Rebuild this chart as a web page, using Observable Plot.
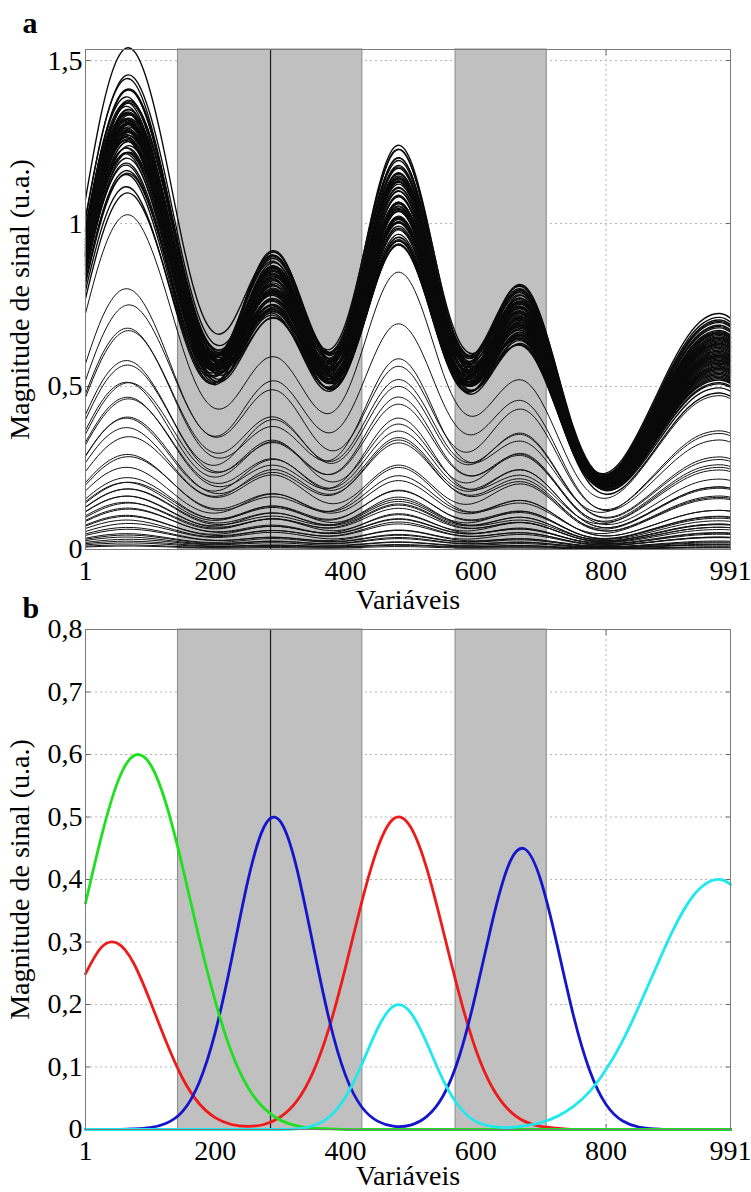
<!DOCTYPE html>
<html>
<head>
<meta charset="utf-8">
<script src="https://cdn.jsdelivr.net/npm/d3@7"></script>
<script src="https://cdn.jsdelivr.net/npm/@observablehq/plot@0.6"></script>
<style>
  body { margin: 0; background: #fff; }
  #wrap { position: relative; width: 751px; height: 1192px; }
  #wrap svg { position: absolute; left: 0; }
  #wrap svg, #wrap svg text, #wrap svg g { font-family: "Liberation Serif", "Times New Roman", Tinos, "DejaVu Serif", serif !important; }
</style>
</head>
<body>
<div id="wrap"></div>
<script>
// ---- sampled variable positions ----
const variables = [1,25,50,75,100,125,150,175,200,225,250,275,300,325,350,375,400,425,450,475,500,525,550,575,600,625,650,675,700,725,750,775,800,825,850,875,900,925,950,975,991];

// ---- pure component profiles (panel b), read at the sampled variables ----
const green = [0.362,0.467,0.555,0.598,0.585,0.520,0.420,0.308,0.206,0.124,0.068,0.034,0.015,0.006,0.002,0.001,0,0,0,0,0,0,0,0,0,0,0,0,0,0,0,0,0,0,0,0,0,0,0,0,0];
const red   = [0.249,0.291,0.298,0.266,0.206,0.140,0.082,0.042,0.019,0.008,0.005,0.008,0.020,0.045,0.091,0.163,0.259,0.364,0.452,0.498,0.484,0.417,0.318,0.215,0.128,0.068,0.032,0.013,0.005,0.002,0,0,0,0,0,0,0,0,0,0,0];
const blue  = [0,0,0,0.001,0.003,0.010,0.029,0.074,0.155,0.271,0.397,0.484,0.493,0.419,0.297,0.176,0.087,0.036,0.013,0.005,0.007,0.021,0.054,0.118,0.217,0.331,0.422,0.449,0.398,0.295,0.182,0.094,0.040,0.014,0.004,0.001,0,0,0,0,0];
const cyan  = [0,0,0,0,0,0,0,0,0,0,0,0,0,0.001,0.006,0.020,0.052,0.104,0.163,0.198,0.187,0.138,0.079,0.036,0.013,0.005,0.003,0.006,0.011,0.021,0.037,0.061,0.096,0.141,0.196,0.255,0.313,0.361,0.391,0.400,0.392];

// ---- mixture amounts of each component in the spectra of panel a ----
// dense upper group
const topG = [1.42,1.55,1.31,1.68,1.47,1.22,1.59,1.38,1.51,1.64,
              1.29,1.45,1.73,1.36,1.52,1.41,1.27,1.60,1.48,1.35,
              1.66,1.44,1.19,1.57,1.50,1.33,1.62,1.40,1.54,1.26,
              1.46,1.70,1.37,1.58,1.43,1.30,1.65,1.49,1.24,1.56,
              1.39,1.61,1.34,1.53,1.45,1.28,1.67,1.42,1.50,1.36,
              1.59,1.21,1.47,1.63,1.32,1.55,1.44,1.71,1.38,1.52,
              1.25,1.60,1.41,1.48,1.80];
const topR = [1.58,1.36,1.71,1.49,1.25,1.63,1.44,1.77,1.52,1.30,
              1.67,1.41,1.55,1.84,1.33,1.60,1.47,1.28,1.73,1.50,
              1.39,1.62,1.46,1.35,1.79,1.54,1.27,1.66,1.43,1.57,
              1.70,1.32,1.51,1.45,1.64,1.38,1.56,1.75,1.29,1.48,
              1.61,1.42,1.68,1.34,1.53,1.81,1.40,1.59,1.26,1.65,
              1.47,1.55,1.37,1.72,1.50,1.31,1.63,1.44,1.58,1.40,
              1.69,1.35,1.52,1.60,1.70];
const topB = [1.49,1.62,1.38,1.55,1.71,1.44,1.33,1.60,1.47,1.52,
              1.66,1.40,1.57,1.35,1.63,1.50,1.74,1.42,1.31,1.58,
              1.45,1.68,1.53,1.37,1.61,1.48,1.56,1.72,1.39,1.64,
              1.51,1.34,1.59,1.46,1.69,1.41,1.54,1.36,1.65,1.48,
              1.57,1.43,1.70,1.52,1.38,1.62,1.47,1.55,1.67,1.32,
              1.60,1.50,1.44,1.58,1.73,1.40,1.53,1.46,1.64,1.36,
              1.55,1.48,1.61,1.42,1.68];
const topC = [1.45,1.58,1.66,1.33,1.51,1.74,1.40,1.55,1.28,1.62,
              1.48,1.70,1.36,1.57,1.43,1.65,1.31,1.52,1.78,1.41,
              1.59,1.24,1.50,1.68,1.38,1.61,1.46,1.35,1.72,1.54,
              1.42,1.63,1.49,1.27,1.56,1.75,1.39,1.60,1.47,1.34,
              1.67,1.44,1.53,1.81,1.37,1.58,1.30,1.64,1.50,1.45,
              1.71,1.40,1.55,1.32,1.62,1.48,1.76,1.43,1.57,1.20,
              1.52,1.66,1.38,1.60,1.47];
// spread-out lower group
const lowG = [1.16,0.86,0.91,0.77,0.80,0.62,0.64,0.55,0.62,0.53,0.55,0.43,0.46,0.40,0.42,0.33,0.34,0.27,0.25,0.22,0.25,0.21,0.22,0.175,0.185,0.155,0.173,0.144,0.147,0.112,0.115,0.097,0.097,0.077,0.074,0.052,0.05,0.041,0.038,0.029,0.024,0.015,0.012];
const lowR = [1.22,1.04,0.76,0.80,0.71,0.76,0.67,0.67,0.52,0.55,0.49,0.53,0.48,0.49,0.35,0.345,0.30,0.33,0.26,0.27,0.21,0.22,0.20,0.215,0.195,0.19,0.144,0.15,0.132,0.138,0.121,0.118,0.081,0.08,0.066,0.064,0.053,0.05,0.032,0.03,0.022,0.019,0.013];
const lowB = [1.10,0.97,0.92,0.70,0.76,0.75,0.61,0.62,0.63,0.48,0.52,0.52,0.44,0.46,0.43,0.30,0.32,0.32,0.24,0.25,0.25,0.19,0.21,0.21,0.175,0.177,0.176,0.132,0.14,0.135,0.109,0.109,0.099,0.070,0.07,0.063,0.048,0.047,0.039,0.026,0.023,0.018,0.011];
const lowC = [1.18,0.84,0.89,0.91,0.71,0.69,0.65,0.54,0.61,0.63,0.48,0.48,0.47,0.40,0.41,0.39,0.30,0.30,0.255,0.22,0.24,0.25,0.195,0.195,0.19,0.153,0.17,0.171,0.13,0.125,0.117,0.095,0.095,0.091,0.065,0.058,0.051,0.041,0.037,0.034,0.021,0.017,0.012];

// ---- axes / annotations ----
const xTicks = [1, 200, 400, 600, 800, 991];
const xGrid = [200, 400, 600, 800];
const yTicksA = [0, 0.5, 1, 1.5];
const yTicksB = [0, 0.1, 0.2, 0.3, 0.4, 0.5, 0.6, 0.7, 0.8];
const yMaxA = 1.534;
const yMaxB = 0.8;
const bands = [{x1: 143, x2: 426}, {x1: 569, x2: 709}];
const marker = [285];
const yLabel = "Magnitude de sinal (u.a.)";
const xLabel = "Variáveis";

// ---- build tables ----
function buildGroup(G, R, B, C, tag) {
  const rows = [];
  G.forEach((g, i) => {
    variables.forEach((v, j) => {
      rows.push({id: tag + i, x: v,
        y: g * green[j] + R[i] * red[j] + B[i] * blue[j] + C[i] * cyan[j]});
    });
  });
  return rows;
}
const lowSpectra = buildGroup(lowG, lowR, lowB, lowC, "low");
const topSpectra = buildGroup(topG, topR, topB, topC, "top");

const comps = [
  {name: "red", color: "#ee1b1b", values: red},
  {name: "blue", color: "#1515cc", values: blue},
  {name: "green", color: "#1fe01f", values: green},
  {name: "cyan", color: "#1fe8ee", values: cyan}
];
const compRows = comps.flatMap(c => variables.map((v, j) => ({name: c.name, color: c.color, x: v, y: c.values[j]})));

const fmt = d => String(d).replace(".", ",");
const FONT = "Liberation Serif, Times New Roman, Tinos, DejaVu Serif, serif";
const style = "background: transparent; overflow: visible; font-size: 28px; color: #000;";

function frameMarks(yTicks, yGrid) {
  return [
    Plot.gridX(xGrid, {stroke: "#b4b4b4", strokeOpacity: 1, strokeDasharray: "2,3"}),
    Plot.gridY(yGrid, {stroke: "#b4b4b4", strokeOpacity: 1, strokeDasharray: "2,3"}),
    Plot.axisX({ticks: xTicks, tickSize: 0, tickPadding: 11, tickFormat: d => String(d), label: null, fontFamily: FONT, fontSize: 28}),
    Plot.axisY({ticks: yTicks, tickSize: 0, tickPadding: 3, tickFormat: fmt, label: null, fontFamily: FONT, fontSize: 28}),
    Plot.axisX({anchor: "bottom", ticks: xTicks, tickSize: -5, fill: "none", stroke: "#666", label: null}),
    Plot.axisX({anchor: "top", ticks: xTicks, tickSize: -5, fill: "none", stroke: "#666", label: null}),
    Plot.axisY({anchor: "left", ticks: yTicks, tickSize: -5, fill: "none", stroke: "#666", label: null}),
    Plot.axisY({anchor: "right", ticks: yTicks, tickSize: -5, fill: "none", stroke: "#666", label: null}),
    Plot.rect(bands, {x1: "x1", x2: "x2", fill: "#c0c0c0", stroke: "#8a8a8a", strokeWidth: 1})
  ];
}
function labelMarks(letter, letterDy, xLabelDy) {
  return [
    Plot.frame({stroke: "#7a7a7a", strokeWidth: 1}),
    Plot.text([letter], {text: d => d, frameAnchor: "top-left", textAnchor: "start", lineAnchor: "bottom",
      dx: -63, dy: letterDy, fontWeight: "bold", fontSize: 30, fontFamily: FONT}),
    Plot.text([xLabel], {text: d => d, frameAnchor: "bottom", textAnchor: "middle", lineAnchor: "bottom",
      dy: xLabelDy, fontSize: 28, fontFamily: FONT}),
    Plot.text([yLabel], {text: d => d, frameAnchor: "left", textAnchor: "middle", lineAnchor: "bottom",
      rotate: -90, dx: -57, fontSize: 28, fontFamily: FONT})
  ];
}

const plotA = Plot.plot({
  width: 751, height: 596,
  marginTop: 49, marginBottom: 47, marginLeft: 85, marginRight: 21,
  style,
  x: {domain: [1, 991], axis: null},
  y: {domain: [0, yMaxA], axis: null},
  marks: [
    ...frameMarks(yTicksA, [0.5, 1, 1.5]),
    Plot.ruleX(marker, {stroke: "#1a1a1a", strokeWidth: 1.2}),
    Plot.line(lowSpectra, {x: "x", y: "y", z: "id", curve: "natural", stroke: "#111", strokeWidth: 1}),
    Plot.line(topSpectra, {x: "x", y: "y", z: "id", curve: "natural", stroke: "#0a0a0a", strokeWidth: 1.35}),
    ...labelMarks("a", -17, 59)
  ]
});
plotA.style.top = "0px";

const plotB = Plot.plot({
  width: 751, height: 596,
  marginTop: 33, marginBottom: 63, marginLeft: 85, marginRight: 21,
  style,
  x: {domain: [1, 991], axis: null},
  y: {domain: [0, yMaxB], axis: null},
  marks: [
    ...frameMarks(yTicksB, [0.1, 0.2, 0.3, 0.4, 0.5, 0.6, 0.7]),
    Plot.ruleX(marker, {stroke: "#1a1a1a", strokeWidth: 1.2}),
    Plot.line(compRows, {x: "x", y: "y", z: "name", stroke: "color", curve: "natural", strokeWidth: 2.8}),
    ...labelMarks("b", -12, 55)
  ]
});
plotB.style.top = "596px";

const wrap = document.getElementById("wrap");
wrap.appendChild(plotA);
wrap.appendChild(plotB);
</script>
</body>
</html>
